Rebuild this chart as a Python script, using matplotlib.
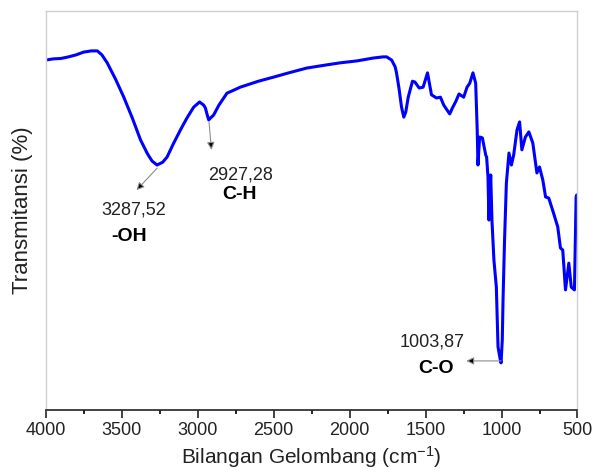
import matplotlib
matplotlib.use("Agg")
import matplotlib.pyplot as plt
from matplotlib.ticker import MultipleLocator

plt.rcParams['font.family'] = ['Liberation Sans', 'DejaVu Sans']
plt.rcParams['mathtext.fontset'] = 'custom'
plt.rcParams['mathtext.rm'] = 'Liberation Sans'
plt.rcParams['mathtext.it'] = 'Liberation Sans:italic'

# Wavenumber (cm^-1) and transmittance (%)
wavenumber = [4000, 3950, 3900, 3850, 3800, 3750, 3700, 3660, 3630, 3595,
              3540, 3486, 3430, 3376, 3330, 3300, 3267, 3230, 3201, 3160,
              3113, 3070, 3026, 2987, 2960, 2949, 2935, 2927, 2915, 2895,
              2860, 2807, 2760, 2720, 2600, 2503, 2400, 2282, 2150, 2063,
              1950, 1846, 1780, 1756, 1723, 1700, 1691, 1675, 1658, 1643,
              1630, 1614, 1586, 1570, 1542, 1516, 1487, 1461, 1428, 1402,
              1380, 1341, 1323, 1300, 1280, 1249, 1227, 1209, 1188, 1170,
              1160, 1155, 1144, 1126, 1104, 1098, 1089, 1083, 1076, 1071,
              1063, 1050, 1034, 1023, 1010, 1003, 995, 990, 980, 968,
              951, 935, 920, 898, 881, 866, 843, 820, 794, 767,
              750, 728, 710, 689, 658, 630, 612, 597, 579, 557,
              541, 520, 509, 505]
transmittance = [87.7, 88.0, 88.1, 88.5, 89.0, 89.7, 90.0, 90.0, 89.0, 87.0,
                 82.9, 78.4, 73.2, 67.7, 64.2, 62.4, 61.4, 62.1, 63.4, 66.7,
                 70.2, 73.2, 75.9, 77.2, 76.4, 75.7, 73.7, 72.7, 73.2, 73.9,
                 76.4, 79.4, 80.2, 80.9, 82.4, 83.4, 84.5, 85.7, 86.5, 87.0,
                 87.5, 88.2, 88.5, 88.5, 87.7, 86.0, 84.5, 80.7, 75.9, 73.4,
                 74.7, 78.4, 82.4, 82.2, 80.7, 80.9, 84.5, 79.0, 78.2, 78.4,
                 76.4, 74.2, 75.7, 77.4, 79.2, 78.4, 80.9, 81.9, 84.5, 81.9,
                 70.2, 61.4, 68.4, 68.2, 63.9, 63.4, 58.4, 47.6, 55.1, 58.9,
                 47.6, 37.6, 30.8, 15.8, 13.0, 11.8, 17.5, 27.6, 42.6, 56.9,
                 64.4, 61.4, 63.9, 70.2, 72.2, 65.2, 68.4, 69.7, 66.9, 59.4,
                 60.9, 57.6, 53.4, 53.1, 49.4, 45.9, 40.6, 40.1, 30.1, 36.8,
                 30.8, 30.1, 53.4, 53.9]

peak_numbers = ["3287,52", "2927,28", "1003,87"]
peak_groups = ["-OH", "C-H", "C-O"]

fig = plt.figure(figsize=(5.94, 4.70), dpi=100)
ax = fig.add_axes([0.0769, 0.1277, 0.8953, 0.8489])

ax.plot(wavenumber, transmittance, color='#0000ff', lw=2.2,
        solid_joinstyle='round', solid_capstyle='round')

ax.set_xlim(4000, 500)
ax.set_ylim(0, 100)
ax.xaxis.set_major_locator(MultipleLocator(500))
ax.xaxis.set_minor_locator(MultipleLocator(250))
ax.set_yticks([])
ax.tick_params(axis='x', which='major', direction='out', length=6, width=1.2,
               labelsize=13, pad=3, colors='#222222')
ax.tick_params(axis='x', which='minor', direction='out', length=3, width=1.2)
for s in ['left', 'top', 'right']:
    ax.spines[s].set_color('#cfcfcf')
    ax.spines[s].set_linewidth(1.0)
ax.spines['bottom'].set_color('#222222')
ax.spines['bottom'].set_linewidth(1.2)

ax.set_xlabel('Bilangan Gelombang (cm$^{-1}$)', fontsize=15, color='#222222', labelpad=3)
ax.set_ylabel('Transmitansi (%)', fontsize=16, color='#222222', labelpad=9)

arrow = dict(arrowstyle='-|>', ec='0.55', fc='black', lw=0.8, mutation_scale=11,
             shrinkA=0, shrinkB=0)
ax.annotate('', xy=(3402, 55.1), xytext=(3267, 60.6), arrowprops=arrow)
ax.annotate('', xy=(2909, 65.2), xytext=(2925, 72.2), arrowprops=arrow)
ax.annotate('', xy=(1232, 12.3), xytext=(1003, 12.3), arrowprops=arrow)

num_pos = [(3420, 50.1), (2715, 58.9), (1454, 17.1)]
grp_pos = [(3452, 43.4), (2725, 53.9), (1431, 10.5)]
for t, (x, y) in zip(peak_numbers, num_pos):
    ax.text(x, y, t, fontsize=13, ha='center', va='center', color='#222222')
for t, (x, y) in zip(peak_groups, grp_pos):
    ax.text(x, y, t, fontsize=14, fontweight='bold', ha='center', va='center', color='black')

fig.savefig('out.png', dpi=100)
